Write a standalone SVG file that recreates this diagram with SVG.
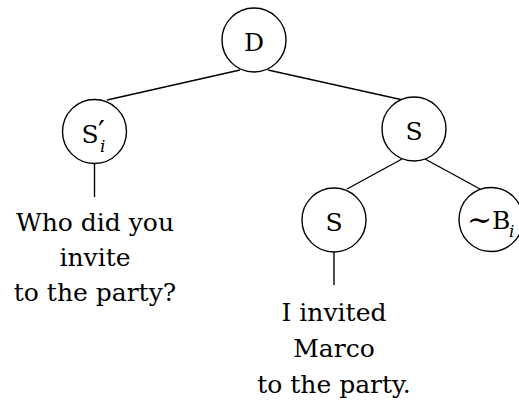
<svg xmlns="http://www.w3.org/2000/svg" width="519" height="404" viewBox="0 0 519 404">
<style>
.node circle { fill: #fff; stroke: #000; stroke-width: 1.4; }
.lbl { font-family: "DejaVu Serif", "Liberation Serif", serif; font-size: 25px; fill: #000; }
.c { text-anchor: middle; }
.sub { font-size: 17px; font-style: italic; }
.sup { font-size: 30px; }
#edges line { stroke: #000; stroke-width: 1.4; }
</style>
<rect width="519" height="404" fill="#fff"/>
<g id="edges">
  <line x1="240" y1="70" x2="107" y2="100"/>
  <line x1="268" y1="70" x2="403" y2="100"/>
  <line x1="402" y1="159" x2="347" y2="189"/>
  <line x1="425" y1="159" x2="480" y2="189"/>
  <line x1="94.5" y1="163.5" x2="94.5" y2="197"/>
  <line x1="334" y1="252" x2="334" y2="285"/>
</g>
<g id="node-D" class="node">
  <circle cx="254" cy="40" r="32"/>
  <text class="lbl c" x="254" y="51">D</text>
</g>
<g id="node-Si" class="node">
  <circle cx="94.5" cy="131.5" r="32"/>
  <text class="lbl" x="81.5" y="143">S<tspan class="sup" x="98" y="142">′</tspan><tspan class="sub" x="100" y="152">i</tspan></text>
</g>
<g id="node-S1" class="node">
  <circle cx="414" cy="129" r="32"/>
  <text class="lbl c" x="414" y="140">S</text>
</g>
<g id="node-S2" class="node">
  <circle cx="334" cy="220" r="32"/>
  <text class="lbl c" x="334" y="231">S</text>
</g>
<g id="node-Bi" class="node">
  <circle cx="491" cy="219.5" r="32"/>
  <text class="lbl" x="467" y="230"><tspan font-size="30">∼</tspan><tspan x="492" y="229">B</tspan><tspan class="sub" x="509" y="237">i</tspan></text>
</g>
<g id="leaf-question">
  <text class="lbl c" x="95" y="231">Who did you</text>
  <text class="lbl c" x="95" y="266">invite</text>
  <text class="lbl c" x="95" y="301">to the party?</text>
</g>
<g id="leaf-answer">
  <text class="lbl c" x="334" y="321">I invited</text>
  <text class="lbl c" x="334" y="357">Marco</text>
  <text class="lbl c" x="334" y="393">to the party.</text>
</g>
</svg>
